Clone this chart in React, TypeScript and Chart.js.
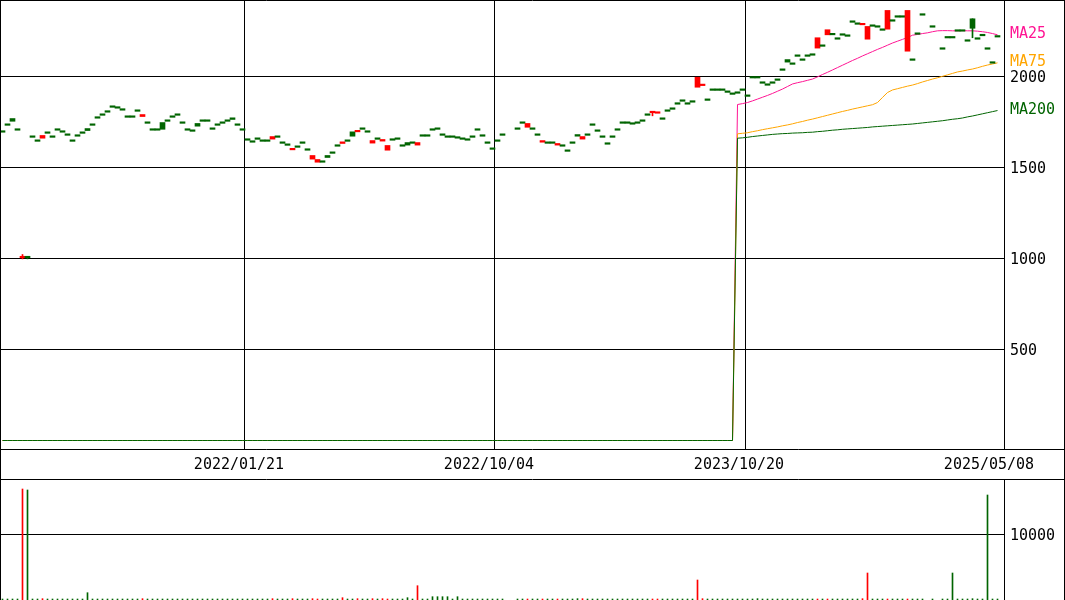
import React, { useEffect, useRef } from "react";
import { Chart, registerables } from "chart.js";

Chart.register(...registerables);

const FONT = '"DejaVu Sans Mono", "Liberation Mono", monospace';
const RED = "#ff0000";
const GREEN = "#006400";
const PINK = "#ff1493";
const ORANGE = "#ffa500";

// x axis: candle index
const X_MIN = -0.5;
const X_MAX = 200.3;
const PRICE_MIN = -46.7;
const PRICE_MAX = 2420.33;
const VOLUME_MAX = 18182;

const dateLabels = ["2022/01/21", "2022/10/04", "2023/10/20", "2025/05/08"];
const dateTickIndex = [48.5, 98.5, 148.5, 198.5];
const priceTicks = [500, 1000, 1500, 2000];
const volumeTicks = [10000];

const opens: (number | null)[] = [
  1702, 1740, 1769, 1713, 1004, 1005, 1674, 1652, 1661, 1696,
  1674, 1713, 1702, 1685, 1652, 1680, 1696, 1714, 1740, 1779,
  1795, 1812, 1839, 1834, 1823, 1784, 1784, 1817, 1780, 1751,
  1713, 1713, 1747, 1762, 1784, 1795, 1751, 1713, 1707, 1742,
  1762, 1762, 1718, 1740, 1751, 1762, 1773, 1740, 1713, 1658,
  1647, 1663, 1652, 1652, 1656, 1674, 1641, 1630, 1597, 1619,
  1641, 1603, 1546, 1529, 1537, 1566, 1586, 1625, 1632, 1652,
  1696, 1696, 1718, 1702, 1634, 1663, 1645, 1595, 1658, 1663,
  1625, 1637, 1641, 1623, 1680, 1680, 1713, 1718, 1685, 1674,
  1674, 1669, 1663, 1658, 1674, 1713, 1680, 1641, 1608, 1652,
  1685, null, null, 1718, 1751, 1721, 1718, 1685, 1639, 1641,
  1641, 1623, 1625, 1597, 1641, 1681, 1656, 1685, 1740, 1707,
  1674, 1636, 1674, 1713, 1751, 1751, 1746, 1751, 1762, 1795,
  1801, 1798, 1773, 1817, 1828, 1856, 1872, 1856, 1867, 1941,
  1950, 1877, 1932, 1932, 1932, 1921, 1910, 1916, 1932, 1899,
  2000, 2000, 1971, 1960, 1971, 1987, 2042, 2093, 2075, 2119,
  2097, 2119, 2125, 2156, 2174, 2229, 2235, 2213, 2235, 2229,
  2306, 2295, 2284, 2205, 2284, 2279, 2262, 2260, 2312, 2334,
  2334, 2139, 2097, 2240, 2345, null, 2279, null, 2158, 2220,
  2220, 2257, 2257, 2202, 2317, 2213, 2232, 2158, 2079, 2225,
];

const closes: (number | null)[] = [
  1702, 1740, 1754, 1713, 1011, 1004, 1674, 1652, 1676, 1696,
  1674, 1713, 1702, 1685, 1652, 1680, 1696, 1703, 1740, 1779,
  1795, 1812, 1839, 1834, 1823, 1784, 1784, 1817, 1791, 1751,
  1713, 1713, 1710, 1762, 1784, 1795, 1751, 1713, 1707, 1727,
  1762, 1762, 1718, 1740, 1751, 1762, 1764, 1740, 1713, 1658,
  1647, 1663, 1652, 1652, 1670, 1674, 1641, 1630, 1598, 1619,
  1641, 1603, 1566, 1544, 1537, 1555, 1586, 1625, 1641, 1652,
  1672, 1697, 1718, 1702, 1648, 1663, 1654, 1621, 1658, 1663,
  1625, 1623, 1641, 1637, 1680, 1680, 1713, 1718, 1685, 1674,
  1674, 1661, 1663, 1658, 1674, 1713, 1680, 1641, 1608, 1652,
  1685, null, null, 1718, 1751, 1742, 1718, 1685, 1648, 1641,
  1641, 1632, 1625, 1597, 1641, 1672, 1670, 1685, 1740, 1707,
  1674, 1636, 1674, 1713, 1751, 1751, 1746, 1751, 1762, 1795,
  1802, 1806, 1773, 1817, 1828, 1856, 1872, 1856, 1867, 1996,
  1951, 1877, 1932, 1932, 1932, 1921, 1910, 1916, 1932, 1899,
  2000, 2000, 1971, 1960, 1971, 1987, 2042, 2079, 2075, 2119,
  2097, 2119, 2125, 2213, 2174, 2257, 2229, 2213, 2235, 2229,
  2306, 2295, 2285, 2275, 2284, 2279, 2262, 2363, 2312, 2334,
  2334, 2363, 2097, 2240, 2345, null, 2279, null, 2158, 2220,
  2220, 2257, 2257, 2202, 2265, 2213, 2232, 2158, 2073, 2225,
];

const wickIndex = [4, 5, 130, 194];
const wickHigh = [1022, 1011, 1802, 2317];
const wickLow = [998, 998, 1784, 2213];

const volumes: (number | null)[] = [
  150, 150, 150, 150, 16818, 16667, 150, 150, 200, 150,
  150, 150, 150, 150, 150, 150, 150, 1106, 150, 150,
  150, 150, 150, 150, 150, 150, 150, 150, 200, 150,
  150, 150, 150, 150, 150, 150, 150, 150, 150, 150,
  150, 150, 150, 150, 150, 150, 150, 150, 150, 150,
  150, 150, 150, 150, 200, 150, 150, 150, 200, 150,
  150, 150, 200, 150, 150, 150, 150, 150, 350, 150,
  150, 200, 150, 150, 200, 150, 200, 150, 150, 150,
  150, 350, 150, 2167, 150, 150, 500, 500, 500, 500,
  150, 500, 150, 150, 150, 150, 150, 150, 150, 150,
  150, null, null, 150, 150, 150, 150, 150, 150, 150,
  150, 150, 150, 150, 150, 200, 200, 150, 150, 150,
  150, 150, 150, 150, 150, 150, 150, 150, 150, 150,
  150, 150, 150, 150, 150, 150, 150, 150, 150, 3030,
  200, 150, 150, 150, 150, 150, 150, 150, 150, 150,
  150, 200, 150, 150, 150, 150, 150, 150, 150, 150,
  150, 150, 150, 150, 150, 150, 150, 150, 150, 150,
  150, 150, 200, 4090, 150, 150, 150, 150, 150, 150,
  150, 150, 150, 150, 150, null, 150, null, 150, 150,
  4090, 150, 150, 150, 200, 150, 150, 15909, 150, 150,
];

// moving averages are 0 before this index
const maStartIndex = 147;
const ma25Values = [
  1846, 1851, 1857, 1866, 1876, 1886, 1896, 1907, 1919, 1931,
  1945, 1959, 1966, 1972, 1979, 1986, 1998, 2011, 2023, 2036,
  2049, 2062, 2075, 2088, 2100, 2113, 2125, 2137, 2149, 2160,
  2172, 2184, 2194, 2204, 2214, 2227, 2231, 2236, 2240, 2246,
  2251, 2252, 2252, 2251, 2251, 2252, 2251, 2251, 2249, 2246,
  2242, 2236, 2229,
];
const ma75Values = [
  1685, 1688, 1691, 1697, 1702, 1708, 1713, 1718, 1723, 1729,
  1734, 1740, 1747, 1753, 1760, 1766, 1773, 1780, 1787, 1794,
  1801, 1808, 1814, 1821, 1827, 1833, 1839, 1845, 1857, 1885,
  1912, 1926, 1933, 1940, 1947, 1953, 1961, 1970, 1978, 1986,
  1993, 2001, 2009, 2017, 2025, 2030, 2036, 2041, 2048, 2056,
  2063, 2069, 2075,
];
const ma200Values = [
  1661, 1663, 1666, 1670, 1673, 1676, 1679, 1682, 1684, 1686,
  1687, 1689, 1690, 1691, 1693, 1694, 1697, 1699, 1702, 1705,
  1707, 1710, 1712, 1714, 1716, 1718, 1720, 1723, 1725, 1727,
  1729, 1731, 1733, 1735, 1737, 1739, 1742, 1745, 1748, 1751,
  1754, 1757, 1761, 1765, 1768, 1772, 1778, 1783, 1789, 1795,
  1801, 1807, 1813,
];

const maLabels = ["MA25", "MA75", "MA200"];
const maColors = [PINK, ORANGE, GREEN];

function candleColor(i: number): string {
  const o = opens[i];
  const c = closes[i];
  return o != null && c != null && c > o ? RED : GREEN;
}

function maSeries(vals: number[]) {
  return opens.map((_, i) => ({ x: i, y: i < maStartIndex ? 0 : vals[i - maStartIndex] }));
}

const tickFont = { family: FONT, size: 15 };

function noPad(s: any) {
  s.paddingTop = 0;
  s.paddingBottom = 0;
  s.paddingLeft = 0;
  s.paddingRight = 0;
}

export default function App() {
  const mainRef = useRef<HTMLCanvasElement>(null);
  const volRef = useRef<HTMLCanvasElement>(null);

  useEffect(() => {
    document.body.style.margin = "0";
    const mainCanvas = mainRef.current!;
    const volCanvas = volRef.current!;

    const bodyIdx = opens.map((_, i) => i).filter((i) => opens[i] != null && closes[i] != null);
    const bodyData = bodyIdx.map((i) => ({ x: i, y: [opens[i] as number, closes[i] as number] }));
    const bodyColors = bodyIdx.map((i) => candleColor(i));
    const wickData = wickIndex.map((idx, k) => ({ x: idx, y: [wickLow[k], wickHigh[k]] }));
    const wickColors = wickIndex.map((idx) => candleColor(idx));

    const maSets = [ma25Values, ma75Values, ma200Values];

    const mainFrame = {
      id: "mainFrame",
      afterDraw(chart: any) {
        const { ctx, chartArea: a, width, height } = chart;
        ctx.save();
        ctx.strokeStyle = "#000";
        ctx.lineWidth = 1;
        ctx.beginPath();
        ctx.moveTo(0, 0.5); ctx.lineTo(width, 0.5);
        ctx.moveTo(0.5, 0); ctx.lineTo(0.5, height);
        ctx.moveTo(width - 0.5, 0); ctx.lineTo(width - 0.5, height);
        ctx.moveTo(a.right + 0.5, 0); ctx.lineTo(a.right + 0.5, a.bottom);
        ctx.moveTo(0, a.bottom + 0.5); ctx.lineTo(width, a.bottom + 0.5);
        ctx.moveTo(0, height - 0.5); ctx.lineTo(width, height - 0.5);
        ctx.stroke();
        const ys = chart.scales.y;
        ctx.font = `15px ${FONT}`;
        ctx.textAlign = "left";
        ctx.textBaseline = "middle";
        maSets.forEach((vals, k) => {
          ctx.fillStyle = maColors[k];
          ctx.fillText(maLabels[k], a.right + 6, ys.getPixelForValue(vals[vals.length - 1]) - 0.5);
        });
        ctx.restore();
      },
    };

    const volFrame = {
      id: "volFrame",
      afterDraw(chart: any) {
        const { ctx, chartArea: a, width, height } = chart;
        ctx.save();
        ctx.strokeStyle = "#000";
        ctx.lineWidth = 1;
        ctx.beginPath();
        ctx.moveTo(0.5, 0); ctx.lineTo(0.5, height);
        ctx.moveTo(a.right + 0.5, 0); ctx.lineTo(a.right + 0.5, height);
        ctx.moveTo(width - 0.5, 0); ctx.lineTo(width - 0.5, height);
        ctx.stroke();
        ctx.restore();
      },
    };

    const main = new Chart(mainCanvas, {
      type: "bar",
      data: {
        datasets: [
          {
            type: "bar",
            data: bodyData as any,
            backgroundColor: bodyColors,
            barThickness: 5,
            minBarLength: 1.5,
            grouped: false,
            borderWidth: 0,
          },
          {
            type: "bar",
            data: wickData as any,
            backgroundColor: wickColors,
            barThickness: 1,
            grouped: false,
            borderWidth: 0,
          },
          {
            type: "line",
            data: maSeries(ma200Values),
            borderColor: GREEN,
            borderWidth: 1,
            pointRadius: 0,
            tension: 0,
            fill: false,
          },
          {
            type: "line",
            data: maSeries(ma75Values),
            borderColor: ORANGE,
            borderWidth: 1,
            pointRadius: 0,
            tension: 0,
            fill: false,
          },
          {
            type: "line",
            data: maSeries(ma25Values),
            borderColor: PINK,
            borderWidth: 1,
            pointRadius: 0,
            tension: 0,
            fill: false,
          },
        ] as any,
      },
      options: {
        responsive: false,
        animation: false,
        devicePixelRatio: 1,
        layout: { padding: { left: 0, right: 1, top: 0, bottom: 0 } },
        plugins: { legend: { display: false }, tooltip: { enabled: false } },
        events: [],
        scales: {
          x: {
            type: "linear",
            position: "bottom",
            min: X_MIN,
            max: X_MAX,
            offset: false,
            afterBuildTicks: (s: any) => {
              s.ticks = dateTickIndex.map((v) => ({ value: v }));
            },
            afterFit: (s: any) => {
              s.height = 31;
              noPad(s);
            },
            ticks: {
              autoSkip: false,
              maxRotation: 0,
              minRotation: 0,
              padding: 7,
              labelOffset: -6,
              color: "#000",
              font: tickFont,
              callback: (v: any) => {
                const k = dateTickIndex.indexOf(Number(v));
                return k >= 0 ? dateLabels[k] : "";
              },
            },
            grid: {
              offset: false,
              drawTicks: false,
              lineWidth: 1,
              color: (c: any) =>
                c.tick && c.tick.value === dateTickIndex[dateTickIndex.length - 1] ? "rgba(0,0,0,0)" : "#000",
            },
            border: { display: false },
          },
          y: {
            type: "linear",
            position: "right",
            min: PRICE_MIN,
            max: PRICE_MAX,
            afterBuildTicks: (s: any) => {
              s.ticks = priceTicks.map((v) => ({ value: v }));
            },
            afterFit: (s: any) => {
              s.width = 60;
              noPad(s);
            },
            ticks: {
              padding: 6,
              labelOffset: 2,
              color: "#000",
              font: tickFont,
              callback: (v: any) => String(v),
            },
            grid: { drawTicks: false, color: "#000", lineWidth: 1 },
            border: { display: false },
          },
        },
      } as any,
      plugins: [mainFrame],
    });

    const volIdx = volumes.map((_, i) => i).filter((i) => volumes[i] != null);
    const vol = new Chart(volCanvas, {
      type: "bar",
      data: {
        datasets: [
          {
            data: volIdx.map((i) => ({ x: i, y: volumes[i] as number })) as any,
            backgroundColor: volIdx.map((i) => candleColor(i)),
            barThickness: 1,
            grouped: false,
            borderWidth: 0,
          },
        ],
      },
      options: {
        responsive: false,
        animation: false,
        devicePixelRatio: 1,
        layout: { padding: { left: 0, right: 1, top: 0, bottom: 0 } },
        plugins: { legend: { display: false }, tooltip: { enabled: false } },
        events: [],
        scales: {
          x: { type: "linear", min: X_MIN, max: X_MAX, offset: false, display: false },
          y: {
            type: "linear",
            position: "right",
            min: 0,
            max: VOLUME_MAX,
            afterBuildTicks: (s: any) => {
              s.ticks = volumeTicks.map((v) => ({ value: v }));
            },
            afterFit: (s: any) => {
              s.width = 60;
              noPad(s);
            },
            ticks: {
              padding: 6,
              labelOffset: 2,
              color: "#000",
              font: tickFont,
              callback: (v: any) => String(v),
            },
            grid: { drawTicks: false, color: "#000", lineWidth: 1 },
            border: { display: false },
          },
        },
      } as any,
      plugins: [volFrame],
    });

    return () => {
      main.destroy();
      vol.destroy();
    };
  }, []);

  return (
    <div style={{ width: 1065, height: 600, overflow: "hidden", background: "#fff" }}>
      <style>{"body{margin:0}"}</style>
      <canvas ref={mainRef} width={1065} height={480} style={{ display: "block" }} />
      <canvas ref={volRef} width={1065} height={120} style={{ display: "block" }} />
    </div>
  );
}
